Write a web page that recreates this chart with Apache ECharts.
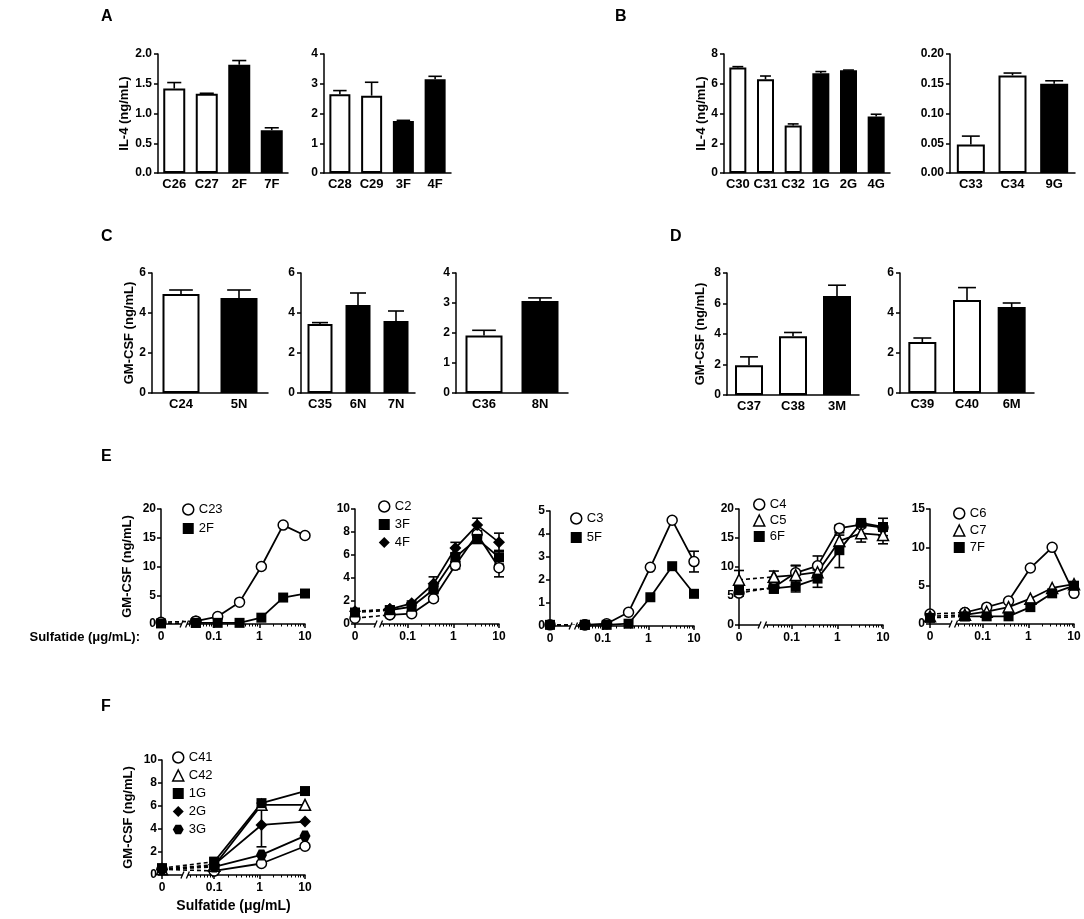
<!DOCTYPE html>
<html>
<head>
<meta charset="utf-8">
<script src="https://cdn.jsdelivr.net/npm/echarts@6.0.0/dist/echarts.min.js"></script>
<style>
  html, body { margin: 0; padding: 0; background: #fff; }
  #chart { width: 1084px; height: 919px; }
</style>
</head>
<body>
<div id="chart"></div>
<script>
// ---------- data: bar panels (A-D) ----------
var catA1 = ['C26', 'C27', '2F', '7F'];
var valA1 = [1.42, 1.33, 1.82, 0.72];
var errA1 = [0.10, 0.01, 0.07, 0.04];

var catA2 = ['C28', 'C29', '3F', '4F'];
var valA2 = [2.65, 2.60, 1.75, 3.15];
var errA2 = [0.12, 0.45, 0.02, 0.10];

var catB1 = ['C30', 'C31', 'C32', '1G', '2G', '4G'];
var valB1 = [7.10, 6.30, 3.20, 6.70, 6.90, 3.80];
var errB1 = [0.05, 0.22, 0.10, 0.12, 0.02, 0.15];

var catB2 = ['C33', 'C34', '9G'];
var valB2 = [0.048, 0.164, 0.150];
var errB2 = [0.014, 0.004, 0.005];

var catC1 = ['C24', '5N'];
var valC1 = [4.95, 4.75];
var errC1 = [0.20, 0.40];

var catC2 = ['C35', '6N', '7N'];
var valC2 = [3.45, 4.40, 3.60];
var errC2 = [0.07, 0.60, 0.50];

var catC3 = ['C36', '8N'];
var valC3 = [1.92, 3.07];
var errC3 = [0.17, 0.10];

var catD1 = ['C37', 'C38', '3M'];
var valD1 = [1.95, 3.85, 6.50];
var errD1 = [0.55, 0.25, 0.70];

var catD2 = ['C39', 'C40', '6M'];
var valD2 = [2.55, 4.65, 4.30];
var errD2 = [0.20, 0.62, 0.20];

// ---------- data: dose-response panels (E, F) ----------
var xTickValues = [0, 0.1, 1, 10];
var xTickLabels = ['0', '0.1', '1', '10'];

var concE = [0, 0.041, 0.123, 0.37, 1.11, 3.33, 10];

var e1C23 = [0.3, 0.5, 1.3, 3.8, 10.0, 17.2, 15.4];
var e1F2 = [0.1, 0.2, 0.2, 0.2, 1.1, 4.6, 5.3];

var e2C2 = [0.5, 0.8, 0.9, 2.2, 5.1, 7.8, 4.9];
var e2C2err = [0, 0, 0, 0.2, 0.3, 0.3, 0.8];
var e2F3 = [1.0, 1.2, 1.5, 3.0, 5.8, 7.4, 5.8];
var e2F3err = [0, 0, 0, 0.3, 0.4, 0.4, 0.6];
var e2F4 = [1.1, 1.3, 1.8, 3.5, 6.6, 8.6, 7.1];
var e2F4err = [0.1, 0.1, 0.2, 0.6, 0.5, 0.6, 0.8];

var e3C3 = [0.05, 0.05, 0.1, 0.6, 2.55, 4.6, 2.8];
var e3C3err = [0, 0, 0, 0, 0, 0, 0.45];
var e3F5 = [0.05, 0.05, 0.05, 0.1, 1.25, 2.6, 1.4];

var e4C4 = [5.5, 6.5, 9.0, 10.2, 16.7, 17.3, 16.8];
var e4C4err = [0, 0, 1.2, 1.7, 0.5, 0.5, 0.5];
var e4C5 = [7.8, 8.3, 8.6, 9.1, 14.5, 15.8, 15.5];
var e4C5err = [1.6, 1.0, 1.7, 0.8, 1.0, 1.5, 1.5];
var e4F6 = [6.0, 6.3, 6.7, 8.0, 12.9, 17.6, 16.9];
var e4F6err = [1.0, 0.8, 1.0, 1.5, 3.0, 0.5, 1.5];

var e5C6 = [1.3, 1.5, 2.2, 3.0, 7.3, 10.0, 4.0];
var e5C7 = [1.0, 1.2, 1.6, 2.2, 3.3, 4.7, 5.2];
var e5F7 = [0.8, 1.0, 1.0, 1.0, 2.2, 4.0, 5.0];

var concF = [0, 0.1, 1.1, 10];
var fC41 = [0.5, 0.35, 1.0, 2.5];
var fC42 = [0.5, 0.8, 6.1, 6.1];
var fG1 = [0.6, 1.15, 6.25, 7.3];
var fG2 = [0.5, 0.9, 4.35, 4.65];
var fG2err = [0, 0, 1.9, 0];
var fG3 = [0.5, 0.7, 1.75, 3.4];

// ---------- layout / style ----------
var FONT = '"Liberation Sans", Arial, sans-serif';
var NARROW = '"Liberation Sans Narrow", "Liberation Sans", Arial, sans-serif';
var ZERO_POS = -2.15;          // where "0" sits on the log axis
var BREAK_FROM = -1.70, BREAK_TO = -1.58;
var HEX = 'path://M-1,0 L-0.5,-0.866 L0.5,-0.866 L1,0 L0.5,0.866 L-0.5,0.866 Z';

function toX(c) { return c === 0 ? ZERO_POS : Math.log10(c); }

var barPanels = [
  {cats: catA1, vals: valA1, errs: errA1, left: 158, top: 54, width: 130, height: 119, max: 2, step: 0.5, dec: 1, barW: 22, name: 'IL-4 (ng/mL)', gap: 23},
  {cats: catA2, vals: valA2, errs: errA2, left: 324, top: 54, width: 127, height: 119, max: 4, step: 1, dec: 0, barW: 21},
  {cats: catB1, vals: valB1, errs: errB1, left: 724, top: 54, width: 166, height: 119, max: 8, step: 2, dec: 0, barW: 17, name: 'IL-4 (ng/mL)', gap: 15},
  {cats: catB2, vals: valB2, errs: errB2, left: 950, top: 54, width: 125, height: 119, max: 0.2, step: 0.05, dec: 2, barW: 28},
  {cats: catC1, vals: valC1, errs: errC1, left: 152, top: 273, width: 116, height: 120, max: 6, step: 2, dec: 0, barW: 37, name: 'GM-CSF (ng/mL)', gap: 12},
  {cats: catC2, vals: valC2, errs: errC2, left: 301, top: 273, width: 114, height: 120, max: 6, step: 2, dec: 0, barW: 25},
  {cats: catC3, vals: valC3, errs: errC3, left: 456, top: 273, width: 112, height: 120, max: 4, step: 1, dec: 0, barW: 37},
  {cats: catD1, vals: valD1, errs: errD1, left: 727, top: 273, width: 132, height: 122, max: 8, step: 2, dec: 0, barW: 28, name: 'GM-CSF (ng/mL)', gap: 20},
  {cats: catD2, vals: valD2, errs: errD2, left: 900, top: 273, width: 134, height: 120, max: 6, step: 2, dec: 0, barW: 28}
];

var linePanels = [
  {conc: concE, left: 161, top: 509, width: 144, height: 115, max: 20, step: 5, name: 'GM-CSF (ng/mL)', gap: 27,
   legLeft: 182, legTop: 503, legGap: 6,
   lines: [{name: 'C23', sym: 'circle', open: true, vals: e1C23},
           {name: '2F', sym: 'rect', vals: e1F2}]},
  {conc: concE, left: 355, top: 509, width: 144, height: 115, max: 10, step: 2,
   legLeft: 378, legTop: 500, legGap: 5,
   lines: [{name: 'C2', sym: 'circle', open: true, vals: e2C2, errs: e2C2err},
           {name: '3F', sym: 'rect', vals: e2F3, errs: e2F3err},
           {name: '4F', sym: 'diamond', vals: e2F4, errs: e2F4err}]},
  {conc: concE, left: 550, top: 511, width: 144, height: 115, max: 5, step: 1,
   legLeft: 570, legTop: 512, legGap: 6,
   lines: [{name: 'C3', sym: 'circle', open: true, vals: e3C3, errs: e3C3err},
           {name: '5F', sym: 'rect', vals: e3F5}]},
  {conc: concE, left: 739, top: 509, width: 144, height: 116, max: 20, step: 5,
   legLeft: 753, legTop: 498, legGap: 3,
   lines: [{name: 'C4', sym: 'circle', open: true, vals: e4C4, errs: e4C4err},
           {name: 'C5', sym: 'triangle', open: true, vals: e4C5, errs: e4C5err},
           {name: '6F', sym: 'rect', vals: e4F6, errs: e4F6err}]},
  {conc: concE, left: 930, top: 509, width: 144, height: 115, max: 15, step: 5,
   legLeft: 953, legTop: 507, legGap: 4,
   lines: [{name: 'C6', sym: 'circle', open: true, vals: e5C6},
           {name: 'C7', sym: 'triangle', open: true, vals: e5C7},
           {name: '7F', sym: 'rect', vals: e5F7}]},
  {conc: concF, left: 162, top: 760, width: 143, height: 115, max: 10, step: 2, name: 'GM-CSF (ng/mL)', gap: 27,
   xName: 'Sulfatide (\u03bcg/mL)',
   legLeft: 172, legTop: 751, legGap: 5,
   lines: [{name: 'C41', sym: 'circle', open: true, vals: fC41},
           {name: 'C42', sym: 'triangle', open: true, vals: fC42},
           {name: '1G', sym: 'rect', vals: fG1},
           {name: '2G', sym: 'diamond', vals: fG2, errs: fG2err},
           {name: '3G', sym: HEX, vals: fG3}]}
];

var SYM_SIZE = {circle: 10, rect: 10, diamond: 12, triangle: 11};
function symSize(s) { return SYM_SIZE[s] || 11; }

function errorBar(capHalf, twoSided) {
  return function (params, api) {
    var x = api.value(0), lo = api.value(1), hi = api.value(2);
    if (hi - lo < 1e-9) return;
    var pLo = api.coord([x, lo]), pHi = api.coord([x, hi]);
    var st = {stroke: '#000', lineWidth: 1.6};
    var kids = [
      {type: 'line', shape: {x1: pLo[0], y1: pLo[1], x2: pHi[0], y2: pHi[1]}, style: st},
      {type: 'line', shape: {x1: pHi[0] - capHalf, y1: pHi[1], x2: pHi[0] + capHalf, y2: pHi[1]}, style: st}
    ];
    if (twoSided) {
      kids.push({type: 'line', shape: {x1: pLo[0] - capHalf, y1: pLo[1], x2: pLo[0] + capHalf, y2: pLo[1]}, style: st});
    }
    return {type: 'group', children: kids};
  };
}

var axisLineStyle = {color: '#000', width: 1.5};
var nameStyle = {color: '#000', fontFamily: FONT, fontWeight: 'bold', fontSize: 13};

var option = {
  animation: false,
  backgroundColor: '#fff',
  grid: [], xAxis: [], yAxis: [], series: [], legend: [], graphic: []
};

// ---------- bar panels ----------
barPanels.forEach(function (p) {
  var g = option.grid.length;
  option.grid.push({left: p.left, top: p.top, width: p.width, height: p.height});
  var xi = option.xAxis.length;
  option.xAxis.push({
    type: 'category', gridIndex: g, data: p.cats,
    axisTick: {show: false},
    axisLine: {lineStyle: axisLineStyle},
    axisLabel: {color: '#000', fontFamily: NARROW, fontWeight: 'bold', fontSize: 13, margin: 5, interval: 0}
  });
  var yi = option.yAxis.length;
  option.yAxis.push({
    type: 'value', gridIndex: g, min: 0, max: p.max, interval: p.step,
    splitLine: {show: false},
    axisLine: {show: true, onZero: false, lineStyle: axisLineStyle},
    axisTick: {show: true, length: 4, lineStyle: axisLineStyle},
    axisLabel: {color: '#000', fontFamily: NARROW, fontWeight: 'bold', fontSize: 12, margin: 6,
      formatter: function (v) { return v.toFixed(p.dec); }},
    name: p.name || '', nameLocation: 'middle', nameGap: p.gap || 20, nameTextStyle: nameStyle
  });
  option.series.push({
    type: 'bar', xAxisIndex: xi, yAxisIndex: yi, barWidth: p.barW,
    itemStyle: {borderColor: '#000', borderWidth: 2},
    data: p.vals.map(function (v, i) {
      return {value: v, itemStyle: {color: p.cats[i].charAt(0) === 'C' ? '#fff' : '#000'}};
    }),
    z: 2
  });
  option.series.push({
    type: 'custom', xAxisIndex: xi, yAxisIndex: yi, z: 3, clip: false,
    renderItem: errorBar(p.barW * 0.32, false),
    data: p.vals.map(function (v, i) { return [i, v, v + p.errs[i]]; })
  });
});

// ---------- dose-response panels ----------
var majorTicks = xTickValues.map(toX);
var minorTicks = [];
[0.01, 0.1, 1].forEach(function (d) {
  for (var k = 2; k <= 9; k++) {
    var lv = Math.log10(k * d);
    if (lv > BREAK_TO + 0.05) minorTicks.push(lv);
  }
});
var lineGrids = [];

linePanels.forEach(function (p) {
  var g = option.grid.length;
  option.grid.push({left: p.left, top: p.top, width: p.width, height: p.height});
  var xi = option.xAxis.length;
  option.xAxis.push({
    type: 'value', gridIndex: g, position: 'bottom', min: ZERO_POS, max: 1,
    splitLine: {show: false},
    axisLine: {onZero: false, lineStyle: axisLineStyle},
    axisTick: {customValues: majorTicks, length: 4, lineStyle: axisLineStyle},
    axisLabel: {customValues: majorTicks, color: '#000', fontFamily: FONT, fontWeight: 'bold', fontSize: 12, margin: 7,
      formatter: function (v) {
        var best = 0;
        majorTicks.forEach(function (t, i) { if (Math.abs(t - v) < Math.abs(majorTicks[best] - v)) best = i; });
        return xTickLabels[best];
      }},
    name: p.xName || '', nameLocation: 'middle', nameGap: 24,
    nameTextStyle: {color: '#000', fontFamily: FONT, fontWeight: 'bold', fontSize: 14}
  });
  option.xAxis.push({
    type: 'value', gridIndex: g, position: 'bottom', min: ZERO_POS, max: 1,
    splitLine: {show: false}, axisLine: {show: false, onZero: false}, axisLabel: {show: false},
    axisTick: {customValues: minorTicks, length: 2.5, lineStyle: {color: '#000', width: 1}}
  });
  var yi = option.yAxis.length;
  option.yAxis.push({
    type: 'value', gridIndex: g, position: 'left', min: 0, max: p.max, interval: p.step,
    splitLine: {show: false},
    axisLine: {show: true, onZero: false, lineStyle: axisLineStyle},
    axisTick: {show: true, length: 4, lineStyle: axisLineStyle},
    axisLabel: {color: '#000', fontFamily: FONT, fontWeight: 'bold', fontSize: 12, margin: 5},
    name: p.name || '', nameLocation: 'middle', nameGap: p.gap || 20, nameTextStyle: nameStyle
  });
  lineGrids.push({xi: xi, yi: yi});

  p.lines.forEach(function (s) {
    var pts = p.conc.map(function (c, i) { return [toX(c), s.vals[i]]; });
    var item = {color: s.open ? '#fff' : '#000', borderColor: '#000', borderWidth: s.open ? 1.5 : 0};
    var base = {
      type: 'line', name: s.name, xAxisIndex: xi, yAxisIndex: yi, clip: false,
      symbol: s.sym, symbolSize: symSize(s.sym), showSymbol: true,
      itemStyle: item, emphasis: {disabled: true}
    };
    option.series.push(Object.assign({}, base, {
      data: pts.slice(0, 2), z: 3,
      lineStyle: {color: '#000', width: 1.6, type: [4, 3]}
    }));
    option.series.push(Object.assign({}, base, {
      data: pts.slice(1), z: 4,
      lineStyle: {color: '#000', width: 1.8}
    }));
    if (s.errs) {
      option.series.push({
        type: 'custom', xAxisIndex: xi, yAxisIndex: yi, z: 2, clip: false,
        renderItem: errorBar(5, true),
        data: pts.map(function (pt, i) { return [pt[0], pt[1] - s.errs[i], pt[1] + s.errs[i]]; })
      });
    }
  });

  option.legend.push({
    orient: 'vertical', left: p.legLeft, top: p.legTop, padding: 0,
    itemWidth: 11, itemHeight: 11, itemGap: p.legGap, selectedMode: false,
    textStyle: {color: '#000', fontFamily: FONT, fontSize: 13},
    data: p.lines.map(function (s) {
      return {name: s.name, icon: s.sym,
        itemStyle: {color: s.open ? '#fff' : '#000', borderColor: '#000', borderWidth: s.open ? 1.5 : 0}};
    })
  });
});

// ---------- panel letters and row label ----------
var letters = [['A', 101, 18], ['B', 615, 18], ['C', 101, 238], ['D', 670, 238], ['E', 101, 458], ['F', 101, 708]];
letters.forEach(function (l) {
  option.graphic.push({id: 'lt' + l[0], type: 'text', left: l[1], top: l[2] - 9,
    style: {text: l[0], font: 'bold 16px ' + FONT, fill: '#000'}});
});
option.graphic.push({id: 'sulfRow', type: 'text', x: 140, y: 637,
  style: {text: 'Sulfatide (\u03bcg/mL):', font: 'bold 13px ' + FONT, fill: '#000', align: 'right', verticalAlign: 'middle'}});

var chart = echarts.init(document.getElementById('chart'), null, {renderer: 'canvas'});
chart.setOption(option);

// axis breaks on the log axes (between 0 and the log segment)
var breaks = [];
lineGrids.forEach(function (lg, k) {
  var a = chart.convertToPixel({xAxisIndex: lg.xi}, BREAK_FROM);
  var b = chart.convertToPixel({xAxisIndex: lg.xi}, BREAK_TO);
  var y = chart.convertToPixel({yAxisIndex: lg.yi}, 0);
  breaks.push({id: 'brk' + k, type: 'rect', z: 100, shape: {x: a, y: y - 1.5, width: b - a, height: 3}, style: {fill: '#fff'}});
  breaks.push({id: 'brkA' + k, type: 'line', z: 101, shape: {x1: a - 1.5, y1: y + 3.5, x2: a + 1.5, y2: y - 3.5}, style: {stroke: '#000', lineWidth: 1.3}});
  breaks.push({id: 'brkB' + k, type: 'line', z: 101, shape: {x1: b - 1.5, y1: y + 3.5, x2: b + 1.5, y2: y - 3.5}, style: {stroke: '#000', lineWidth: 1.3}});
});
chart.setOption({graphic: breaks});
</script>
</body>
</html>
